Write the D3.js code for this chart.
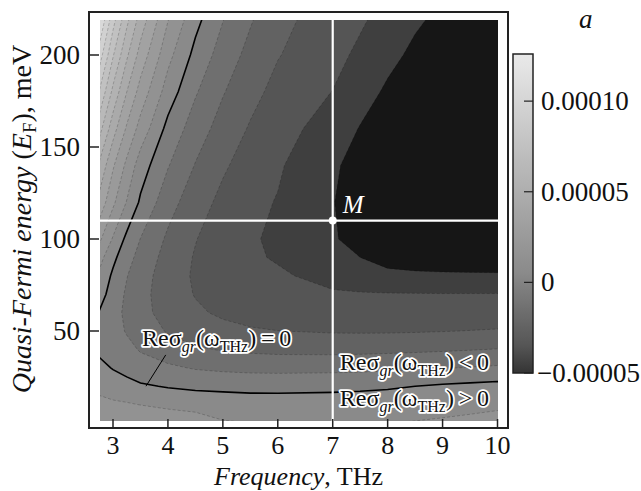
<!DOCTYPE html>
<html>
<head>
<meta charset="utf-8">
<script src="https://cdn.jsdelivr.net/npm/d3@7"></script>
<style>
  body { margin: 0; background: #fff; }
  svg { display: block; }
  text { font-family: "Liberation Serif", "Times New Roman", serif; fill: #111; }
</style>
</head>
<body>
<svg id="chart" width="641" height="491"></svg>
<script>
// grid of the map: columns are frequencies (THz), rows are quasi-Fermi energies (meV)
const freqs = [2.75, 3, 3.25, 3.5, 4, 4.5, 5, 5.5, 6, 7, 7.5, 8, 8.5, 9, 9.5, 10];
const energies = [0, 10, 20, 30, 40, 50, 60, 70, 80, 90, 100, 120, 140, 160, 180, 200, 220];
// Re sigma_gr, in units of 1e-5 S (one row per energy)
const reSigma = [
  [1.70, 1.76, 1.80, 1.84, 1.62, 1.50, 1.10, 1.00, 0.96, 0.95, 0.96, 0.99, 1.06, 1.15, 1.27, 1.42],
  [1.24, 1.15, 1.09, 0.98, 0.80, 0.65, 0.45, 0.40, 0.38, 0.40, 0.42, 0.45, 0.52, 0.62, 0.70, 0.80],
  [0.76, 0.55, 0.36, 0.13, -0.07, -0.20, -0.20, -0.24, -0.24, -0.20, -0.16, -0.10, 0.00, 0.12, 0.21, 0.30],
  [0.29, -0.06, -0.35, -0.60, -0.83, -1.08, -1.22, -1.30, -1.33, -1.30, -1.26, -1.20, -1.13, -1.05, -0.96, -0.86],
  [-0.22, -0.40, -0.73, -1.08, -1.57, -1.88, -2.07, -2.19, -2.26, -2.29, -2.27, -2.23, -2.18, -2.12, -2.05, -1.97],
  [-0.40, -0.60, -1.08, -1.49, -2.08, -2.46, -2.72, -2.89, -2.99, -3.09, -3.10, -3.10, -3.07, -3.03, -2.98, -2.93],
  [-0.05, -0.62, -1.22, -1.69, -2.39, -2.85, -3.16, -3.38, -3.54, -3.55, -3.57, -3.60, -3.60, -3.60, -3.58, -3.55],
  [0.43, -0.45, -1.14, -1.70, -2.50, -3.05, -3.43, -3.70, -3.80, -3.88, -3.92, -3.95, -3.96, -3.97, -3.97, -3.97],
  [0.82, -0.18, -0.96, -1.58, -2.50, -3.13, -3.57, -3.82, -3.85, -4.35, -4.60, -4.75, -4.82, -4.85, -4.85, -4.85],
  [1.36, 0.24, -0.63, -1.34, -2.37, -3.08, -3.59, -3.85, -4.10, -4.70, -5.00, -5.37, -5.50, -5.60, -5.67, -5.72],
  [2.20, 0.90, -0.24, -1.02, -2.17, -2.96, -3.53, -3.88, -4.20, -4.92, -5.30, -5.58, -5.75, -5.87, -5.97, -6.05],
  [3.70, 2.20, 0.95, -0.15, -1.61, -2.56, -3.25, -3.76, -4.05, -4.97, -5.38, -5.70, -5.92, -6.08, -6.22, -6.35],
  [4.84, 3.12, 1.76, 0.50, -0.94, -2.05, -2.86, -3.45, -3.88, -4.88, -5.30, -5.60, -5.85, -6.07, -6.25, -6.38],
  [6.39, 4.42, 2.87, 1.63, -0.30, -1.49, -2.41, -3.09, -3.61, -4.45, -5.05, -5.37, -5.65, -5.90, -6.10, -6.30],
  [7.96, 5.75, 4.01, 2.61, 0.54, -0.90, -1.93, -2.70, -3.29, -4.02, -4.60, -5.15, -5.45, -5.70, -5.92, -6.13],
  [9.55, 7.09, 5.16, 3.61, 1.30, -0.29, -1.44, -2.30, -2.95, -3.70, -4.20, -4.74, -5.20, -5.47, -5.72, -5.95],
  [11.14, 8.44, 6.31, 4.61, 2.07, 0.32, -0.95, -1.89, -2.71, -3.50, -3.85, -4.35, -4.85, -5.20, -5.50, -5.75]
];
const levels = d3.range(-5, 13);          // contour levels, 1e-5 S apart
const xTicks = [3, 4, 5, 6, 7, 8, 9, 10];
const yTicks = [50, 100, 150, 200];
const barTicks = [-5, 0, 5, 10];
const barLabels = ["\u22120.00005", "0", "0.00005", "0.00010"];
const barRange = [-5, 12.6];
const pointM = { f: 7, e: 110 };

const svg = d3.select("#chart");

// frame and plotting area
const frame = { left: 89, right: 508, top: 12, bottom: 428 };
const area = { left: 100, right: 498, top: 20, bottom: 421 };

const x = d3.scaleLinear().domain([3, 10]).range([113, 497.5]);
const y = d3.scaleLinear().domain([0, 200]).range([423, 55]);

// band fill by lower level, darkest fill below the last level
const bandGray = d3.scaleLinear().domain([-5, -4, -1, 0, 11]).range([63, 85, 124, 138, 225]);
const grayColor = v => { const g = Math.round(Math.min(232, v)); return `rgb(${g},${g},${g})`; };

svg.append("defs").append("clipPath").attr("id", "clip")
  .append("rect")
  .attr("x", area.left).attr("y", area.top)
  .attr("width", area.right - area.left).attr("height", area.bottom - area.top);

const plot = svg.append("g").attr("clip-path", "url(#clip)");

plot.append("rect")
  .attr("x", area.left).attr("y", area.top)
  .attr("width", area.right - area.left).attr("height", area.bottom - area.top)
  .attr("fill", "#161616");

// contour grid coords -> data (sample i sits at i + 0.5)
const fIdx = d3.scaleLinear().domain(freqs.map((d, i) => i + 0.5)).range(freqs);
const eIdx = d3.scaleLinear().domain(energies.map((d, i) => i + 0.5)).range(energies);
const proj = d3.geoTransform({
  point(px, py) { this.stream.point(x(fIdx(px)), y(eIdx(py))); }
});
const path = d3.geoPath(proj);

const contours = d3.contours()
  .size([freqs.length, energies.length])
  .thresholds(levels)(reSigma.flat());

plot.selectAll("path.band")
  .data(contours)
  .join("path")
  .attr("class", "band")
  .attr("d", path)
  .attr("fill", d => grayColor(bandGray(d.value)))
  .attr("stroke", d => d.value === 0 ? "none" : "rgba(0,0,0,0.28)")
  .attr("stroke-width", 0.7)
  .attr("stroke-dasharray", "3,2");

// zero line
plot.append("path")
  .datum(contours.find(d => d.value === 0))
  .attr("d", path)
  .attr("fill", "none")
  .attr("stroke", "#000")
  .attr("stroke-width", 1.6);

// cross through point M
plot.append("line")
  .attr("x1", x(pointM.f)).attr("x2", x(pointM.f))
  .attr("y1", area.top).attr("y2", area.bottom)
  .attr("stroke", "#fff").attr("stroke-width", 2.2);
plot.append("line")
  .attr("x1", area.left).attr("x2", area.right)
  .attr("y1", y(pointM.e)).attr("y2", y(pointM.e))
  .attr("stroke", "#fff").attr("stroke-width", 2.2);
svg.append("circle")
  .attr("cx", x(pointM.f)).attr("cy", y(pointM.e)).attr("r", 4)
  .attr("fill", "#fff");
svg.append("text")
  .attr("x", x(pointM.f) + 10).attr("y", y(pointM.e) - 8)
  .attr("font-size", 25).attr("font-style", "italic")
  .style("fill", "#fff")
  .text("M");

// leader line to the zero contour
svg.append("line")
  .attr("x1", x(3.96)).attr("y1", y(37))
  .attr("x2", x(3.6)).attr("y2", y(20))
  .attr("stroke", "#000").attr("stroke-width", 1);

// annotations with white halo
function reLabel(fx, ey, tail) {
  const t = svg.append("text")
    .attr("x", x(fx)).attr("y", y(ey))
    .attr("font-size", 24)
    .attr("stroke", "#fff").attr("stroke-width", 3.5)
    .attr("stroke-linejoin", "round")
    .attr("paint-order", "stroke");
  t.append("tspan").text("Re\u03c3");
  t.append("tspan").attr("font-size", 16).attr("font-style", "italic").attr("dy", 6).text("gr");
  t.append("tspan").attr("dy", -6).text("(\u03c9");
  t.append("tspan").attr("font-size", 16).attr("dy", 6).text("THz");
  t.append("tspan").attr("dy", -6).text(")" + tail);
}
reLabel(3.53, 42, "\u2009=\u20090");
reLabel(7.13, 29, "\u2009<\u20090");
reLabel(7.13, 9.5, "\u2009>\u20090");

// frame
svg.append("rect")
  .attr("x", frame.left).attr("y", frame.top)
  .attr("width", frame.right - frame.left).attr("height", frame.bottom - frame.top)
  .attr("fill", "none").attr("stroke", "#222").attr("stroke-width", 2);

// x ticks
svg.append("g").selectAll("line")
  .data(xTicks).join("line")
  .attr("x1", d => x(d)).attr("x2", d => x(d))
  .attr("y1", frame.bottom).attr("y2", frame.bottom - 9)
  .attr("stroke", "#222").attr("stroke-width", 1.5);
svg.append("g").selectAll("text")
  .data(xTicks).join("text")
  .attr("x", d => x(d)).attr("y", 454)
  .attr("text-anchor", "middle").attr("font-size", 26)
  .text(d => d);

// y ticks
svg.append("g").selectAll("line")
  .data(yTicks).join("line")
  .attr("x1", frame.left).attr("x2", frame.left + 10)
  .attr("y1", d => y(d)).attr("y2", d => y(d))
  .attr("stroke", "#222").attr("stroke-width", 1.5);
svg.append("g").selectAll("text")
  .data(yTicks).join("text")
  .attr("x", 80).attr("y", d => y(d) + 9)
  .attr("text-anchor", "end").attr("font-size", 27)
  .text(d => d);

// axis titles
const xt = svg.append("text")
  .attr("x", (frame.left + frame.right) / 2).attr("y", 485)
  .attr("text-anchor", "middle").attr("font-size", 26);
xt.append("tspan").attr("font-style", "italic").text("Frequency");
xt.append("tspan").text(", THz");

const yt = svg.append("text")
  .attr("transform", "translate(31,219) rotate(-90)")
  .attr("text-anchor", "middle").attr("font-size", 28);
yt.append("tspan").attr("font-style", "italic").text("Quasi-Fermi energy");
yt.append("tspan").text(" (");
yt.append("tspan").attr("font-style", "italic").text("E");
yt.append("tspan").attr("font-size", 19).attr("dy", 5).text("F");
yt.append("tspan").attr("dy", -5).text("), meV");

// panel letter
svg.append("text")
  .attr("x", 579).attr("y", 28)
  .attr("font-size", 27).attr("font-style", "italic")
  .text("a");

// colour bar
const bar = { left: 513, right: 533, top: 54, bottom: 373 };
const yb = d3.scaleLinear().domain(barRange).range([bar.bottom, bar.top]);
const grad = svg.select("defs").append("linearGradient")
  .attr("id", "barGrad").attr("x1", 0).attr("x2", 0).attr("y1", 1).attr("y2", 0);
const stops = d3.range(barRange[0], barRange[1] + 0.01, 0.5);
grad.selectAll("stop")
  .data(stops).join("stop")
  .attr("offset", d => (d - barRange[0]) / (barRange[1] - barRange[0]))
  .attr("stop-color", d => grayColor(bandGray(d - 0.5)));
svg.append("rect")
  .attr("x", bar.left).attr("y", bar.top)
  .attr("width", bar.right - bar.left).attr("height", bar.bottom - bar.top)
  .attr("fill", "url(#barGrad)")
  .attr("stroke", "#222").attr("stroke-width", 1.5);
svg.append("g").selectAll("line")
  .data(barTicks).join("line")
  .attr("x1", bar.right - 9).attr("x2", bar.right)
  .attr("y1", d => yb(d)).attr("y2", d => yb(d))
  .attr("stroke", "#222").attr("stroke-width", 1.2);
svg.append("g").selectAll("text")
  .data(barTicks).join("text")
  .attr("x", (d, i) => barLabels[i].startsWith("\u2212") ? 537 : 541)
  .attr("y", d => yb(d) + 9)
  .attr("font-size", 27)
  .text((d, i) => barLabels[i]);
</script>
</body>
</html>
